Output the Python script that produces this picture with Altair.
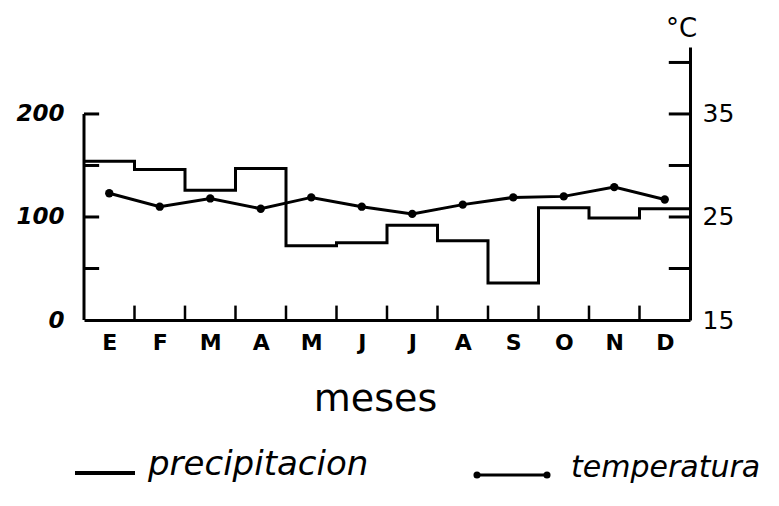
import altair as alt
import pandas as pd

# ---- data ----
months = ["E", "F", "M", "A", "M", "J", "J", "A", "S", "O", "N", "D"]
precip = [154, 146, 126, 147, 72, 75, 92, 77, 36, 109, 99, 108]          # mm
temp = [27.3, 26.0, 26.8, 25.8, 26.9, 26.0, 25.3, 26.2, 26.9, 27.0, 27.9, 26.7]  # °C
mm_ticks = [50, 100, 150, 200]
mm_labels = [0, 100, 200]
c_ticks = [20, 25, 30, 35, 40]
c_labels = [15, 25, 35]
legend_labels = ["precipitacion", "temperatura"]
x_title = "meses"
unit_label = "°C"

# ---- geometry / scales ----
W, H = 606, 273
xs = alt.Scale(domain=[0, 12], nice=False, zero=False)
ymm = alt.Scale(domain=[0, 265], nice=False, zero=False)
yc = alt.Scale(domain=[15, 41.5], nice=False, zero=False)

label_expr = "[" + ",".join(f"'{m}'" for m in months) + "][floor(datum.value)]"

x_axis = alt.Axis(values=[i + 0.5 for i in range(12)], labelExpr=label_expr,
                  ticks=False, domain=True, domainWidth=3, domainColor="black",
                  grid=False, labelFontSize=22, labelFont="DejaVu Sans",
                  labelFontWeight="bold", labelPadding=12, labelColor="black",
                  title=x_title, titleFontSize=38, titleFont="DejaVu Sans",
                  titleFontWeight="normal", titleX=291, titleY=90,
                  titleBaseline="alphabetic", titleColor="black")
ymm_axis = alt.Axis(values=mm_labels, ticks=False, domain=False, grid=False,
                    labelFontSize=23, labelFontStyle="italic", labelFontWeight="bold",
                    labelFont="DejaVu Sans", labelPadding=20, labelColor="black",
                    title=None)
yc_axis = alt.Axis(orient="right", values=c_labels, ticks=False, domain=True,
                   domainWidth=3, domainColor="black", grid=False,
                   labelFontSize=25, labelFont="DejaVu Sans", labelPadding=12,
                   labelColor="black", title=unit_label, titleAngle=0,
                   titleX=-9, titleY=-19, titleAlign="center",
                   titleBaseline="middle", titleFontSize=26,
                   titleFont="DejaVu Sans", titleFontWeight="normal",
                   titleColor="black")

precip_df = pd.DataFrame({"x": list(range(13)), "mm": precip + [precip[-1]]})
temp_df = pd.DataFrame({"x": [i + 0.5 for i in range(12)], "c": temp})
left_dom_df = pd.DataFrame({"x": [0], "y0": [min(mm_labels)], "y1": [max(mm_labels)]})
mm_tick_df = pd.DataFrame({"mm": mm_ticks, "x0": [0] * len(mm_ticks), "x1": [0.3] * len(mm_ticks)})
month_tick_df = pd.DataFrame({"x": list(range(1, 12)), "y0": [0] * 11, "y1": [14] * 11})
c_tick_df = pd.DataFrame({"c": c_ticks, "x0": [11.58] * len(c_ticks), "x1": [12] * len(c_ticks)})

X = lambda f: alt.X(f, scale=xs, axis=x_axis)

precip_line = alt.Chart(precip_df).mark_line(
    interpolate="step-after", color="black", strokeWidth=3
).encode(x=X("x:Q"), y=alt.Y("mm:Q", scale=ymm, axis=ymm_axis))

left_dom = alt.Chart(left_dom_df).mark_rule(color="black", strokeWidth=3).encode(
    x=X("x:Q"), y=alt.Y("y0:Q", scale=ymm, axis=ymm_axis), y2="y1:Q")

mm_tick = alt.Chart(mm_tick_df).mark_rule(color="black", strokeWidth=3).encode(
    x=X("x0:Q"), x2="x1:Q", y=alt.Y("mm:Q", scale=ymm, axis=ymm_axis))

month_tick = alt.Chart(month_tick_df).mark_rule(color="black", strokeWidth=2.5).encode(
    x=X("x:Q"), y=alt.Y("y0:Q", scale=ymm, axis=ymm_axis), y2="y1:Q")

# legend
leg_df1 = pd.DataFrame({"label": [legend_labels[0]]})
leg_df2 = pd.DataFrame({"label": [legend_labels[1]]})
leg_line1 = alt.Chart(leg_df1).mark_rule(color="black", strokeWidth=4).encode(
    x=alt.value(-9), x2=alt.value(51), y=alt.value(426))
leg_text1 = alt.Chart(leg_df1).mark_text(
    align="left", baseline="alphabetic", fontSize=34, font="DejaVu Sans",
    fontStyle="italic", color="black").encode(
    text="label:N", x=alt.value(64), y=alt.value(428))
leg_line2 = alt.Chart(leg_df2).mark_rule(color="black", strokeWidth=3).encode(
    x=alt.value(393), x2=alt.value(463), y=alt.value(428))
leg_pt_a = alt.Chart(leg_df2).mark_circle(color="black", size=50, opacity=1).encode(
    x=alt.value(393), y=alt.value(428))
leg_pt_b = alt.Chart(leg_df2).mark_circle(color="black", size=50, opacity=1).encode(
    x=alt.value(463), y=alt.value(428))
leg_text2 = alt.Chart(leg_df2).mark_text(
    align="left", baseline="alphabetic", fontSize=30, font="DejaVu Sans",
    fontStyle="italic", color="black").encode(
    text="label:N", x=alt.value(487), y=alt.value(430))

mm_group = alt.layer(precip_line, left_dom, mm_tick, month_tick,
                     leg_line1, leg_text1, leg_line2, leg_pt_a, leg_pt_b, leg_text2)

temp_line = alt.Chart(temp_df).mark_line(
    color="black", strokeWidth=3,
    point=alt.OverlayMarkDef(filled=True, size=70, color="black")
).encode(x=X("x:Q"), y=alt.Y("c:Q", scale=yc, axis=yc_axis))

c_tick = alt.Chart(c_tick_df).mark_rule(color="black", strokeWidth=3).encode(
    x=X("x0:Q"), x2="x1:Q", y=alt.Y("c:Q", scale=yc, axis=yc_axis))

temp_group = alt.layer(temp_line, c_tick)

chart = alt.layer(mm_group, temp_group).resolve_scale(y="independent").properties(
    width=W, height=H,
    autosize="none",
    padding={"left": 76, "top": 39, "right": 81, "bottom": 170},
    background="white",
).configure_view(stroke=None)

chart.save("out.html", embed_options={"renderer": "svg", "actions": False})
